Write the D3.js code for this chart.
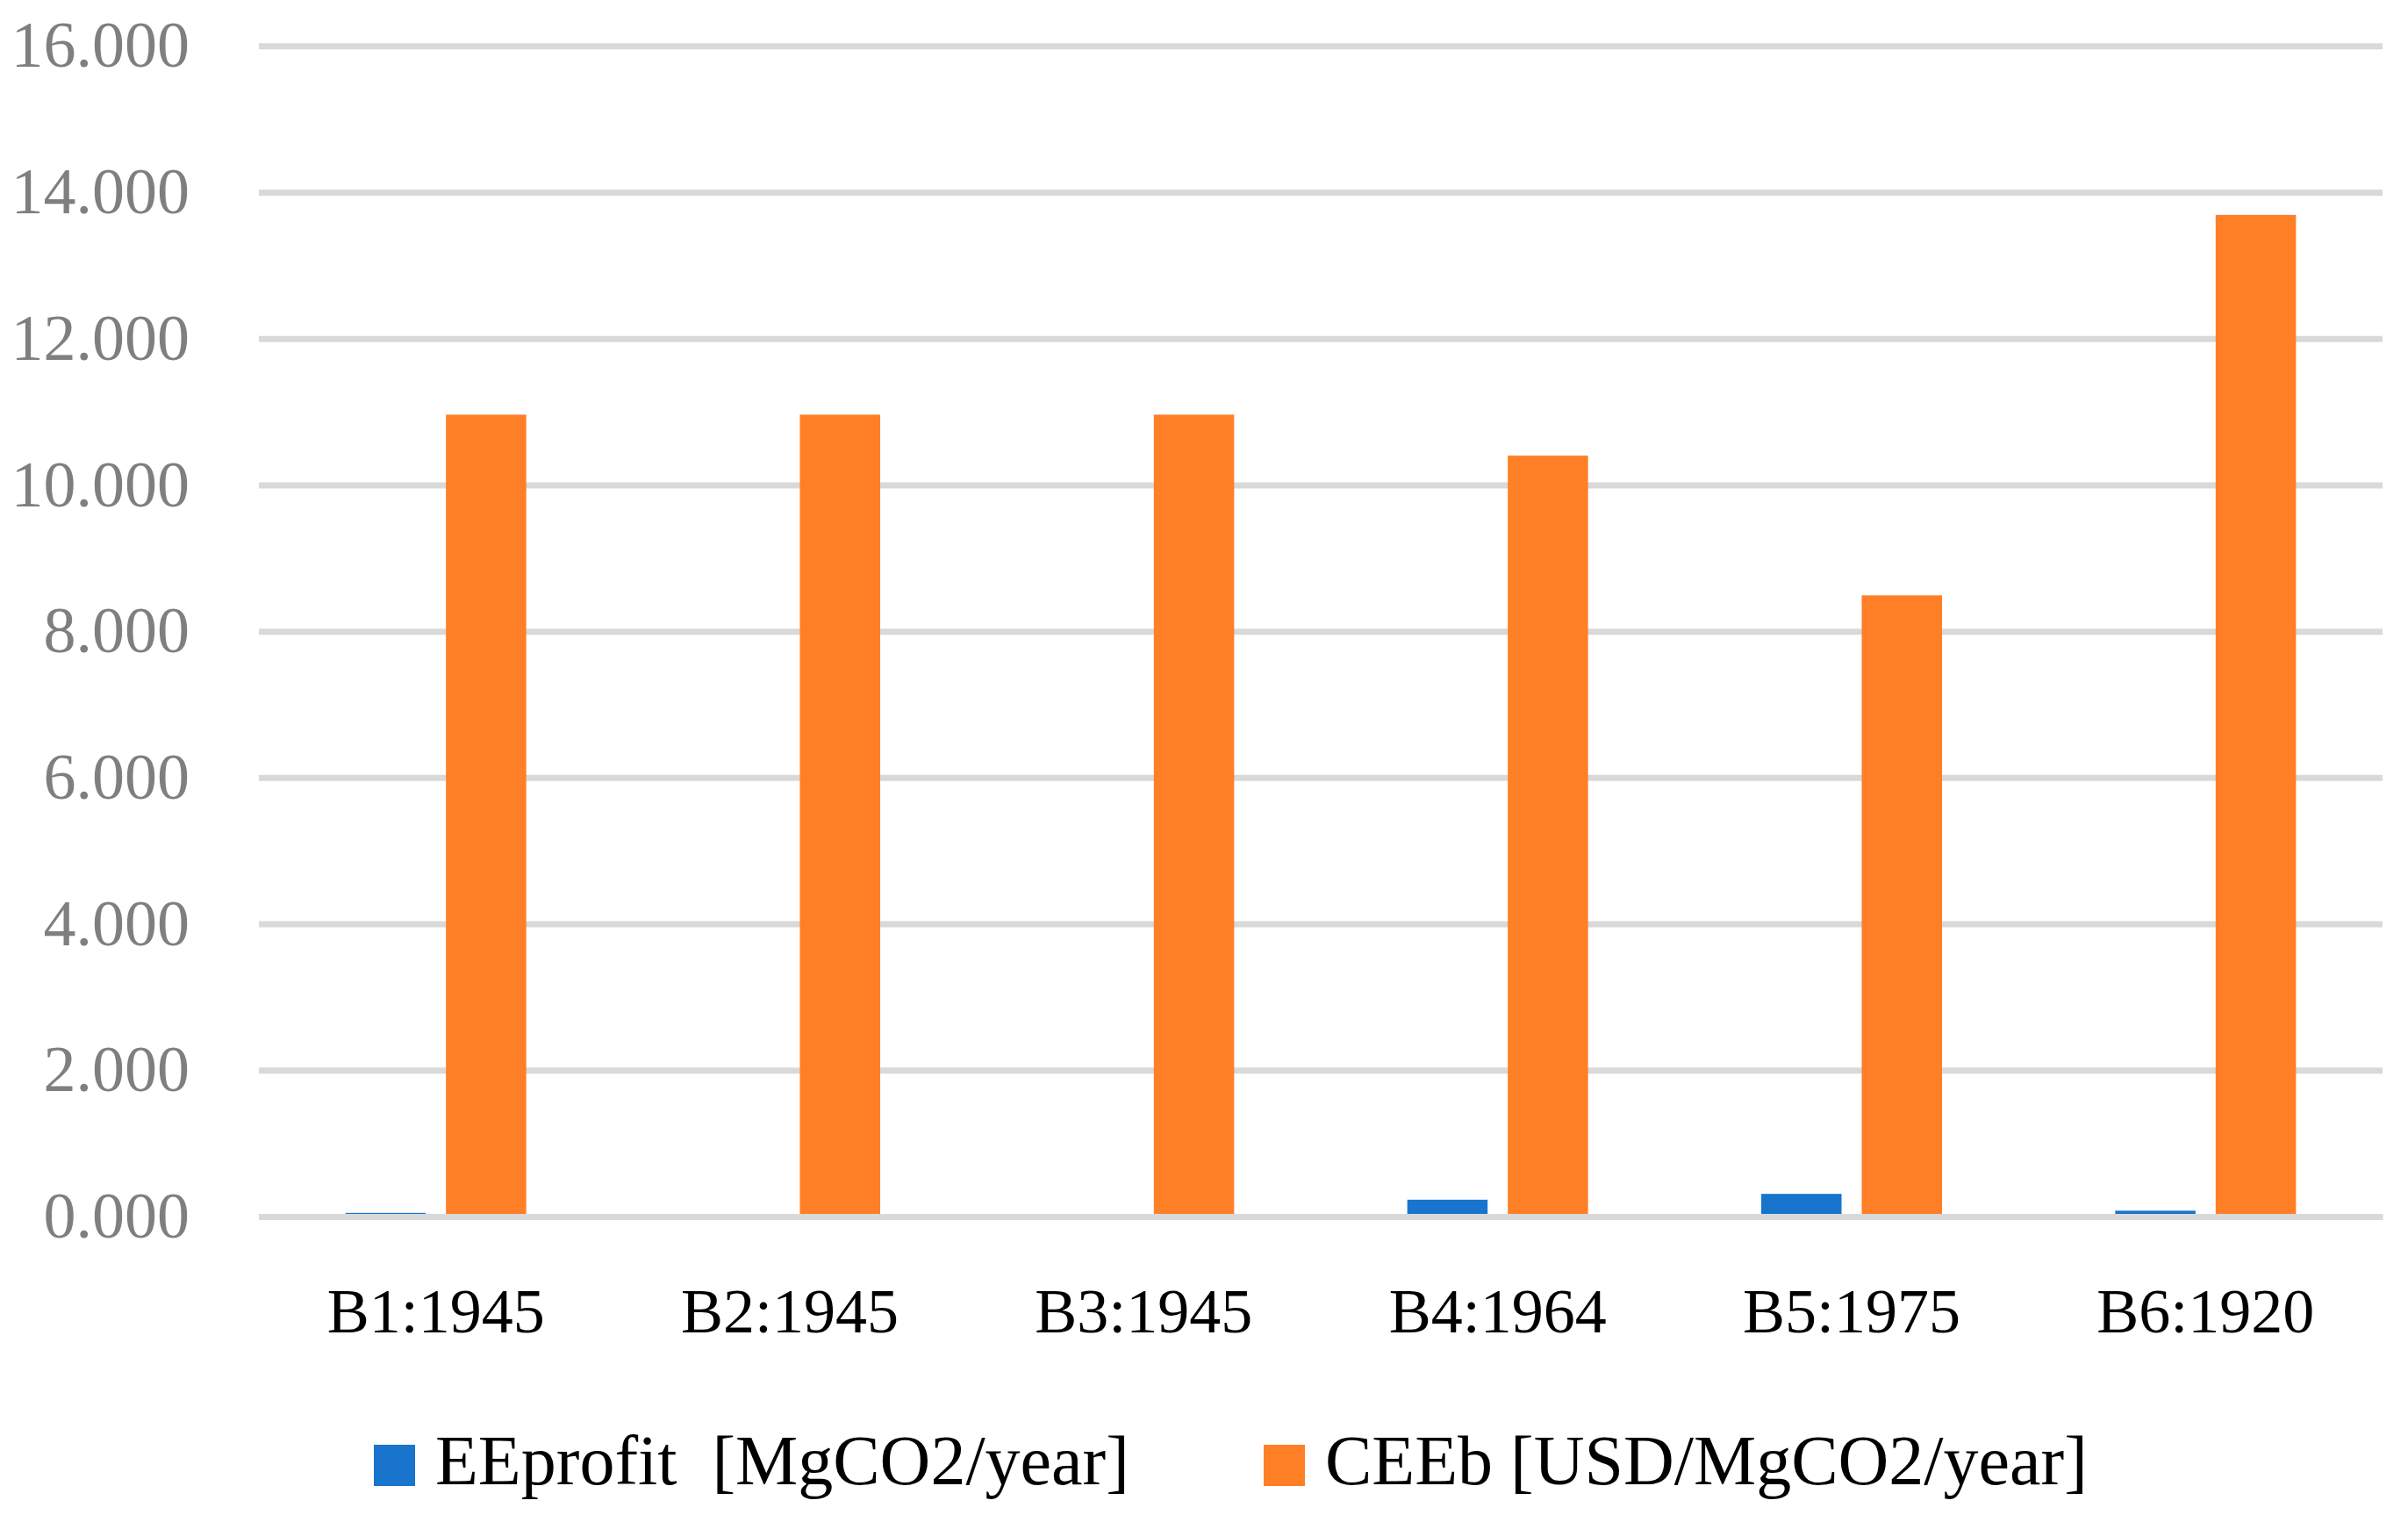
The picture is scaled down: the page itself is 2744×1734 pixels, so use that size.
<!DOCTYPE html>
<html>
<head>
<meta charset="utf-8">
<script src="https://cdn.jsdelivr.net/npm/d3@7"></script>
<style>
  body { margin: 0; background: #fff; }
  text { font-family: "Liberation Serif", "DejaVu Serif", serif; }
</style>
</head>
<body>
<svg id="chart" width="2744" height="1734"></svg>
<script>
// data
const buildings = ["B1:1945", "B2:1945", "B3:1945", "B4:1964", "B5:1975", "B6:1920"];
const eeProfit = [0.05, 0, 0, 0.23, 0.31, 0.08];
const ceeB = [10.96, 10.96, 10.96, 10.40, 8.49, 13.69];
const seriesNames = ["EEprofit  [MgCO2/year]", "CEEb [USD/MgCO2/year]"];
const seriesColors = ["#1874cd", "#ff7f27"];
const yTicks = [0, 2, 4, 6, 8, 10, 12, 14, 16];

const svg = d3.select("#chart");
const width = +svg.attr("width");
const height = +svg.attr("height");
const plotLeft = 295, plotRight = 2715, plotTop = 52.3, plotBottom = 1386;

svg.append("rect").attr("width", width).attr("height", height).attr("fill", "#fff");

const x0 = d3.scaleBand()
  .domain(buildings)
  .range([plotLeft, plotRight]);

// two bars per group, centred on the group, 23px apart
const x1 = d3.scaleBand()
  .domain([0, 1])
  .range([-103, 103])
  .paddingInner(23 / 114.5);

const y = d3.scaleLinear()
  .domain([0, 16])
  .range([plotBottom, plotTop]);

const fmt = d3.format(".3f");

// gridlines + y labels
const yAxis = svg.append("g")
  .attr("transform", `translate(${plotLeft},0)`)
  .call(d3.axisLeft(y)
    .tickValues(yTicks)
    .tickFormat(fmt)
    .tickSize(-(plotRight - plotLeft))
    .tickPadding(79));
yAxis.select(".domain").remove();
yAxis.selectAll(".tick line")
  .attr("stroke", "#d9d9d9")
  .attr("stroke-width", 7);
yAxis.selectAll(".tick text")
  .attr("fill", "#7f7f7f")
  .attr("font-size", 74)
  .attr("font-family", "Liberation Serif");

// bars
const rows = buildings.map((b, i) => ({ b: b, vals: [eeProfit[i], ceeB[i]] }));

const groups = svg.append("g")
  .selectAll("g")
  .data(rows)
  .enter()
  .append("g")
  .attr("transform", d => `translate(${x0(d.b) + x0.bandwidth() / 2},0)`);

groups.selectAll("rect")
  .data(d => d.vals.map((v, k) => ({ k: k, v: v })))
  .enter()
  .append("rect")
  .attr("x", d => x1(d.k))
  .attr("width", x1.bandwidth())
  .attr("y", d => y(d.v))
  .attr("height", d => y(0) - y(d.v))
  .attr("fill", d => seriesColors[d.k]);

// category axis (line drawn over the bars)
const xAxis = svg.append("g")
  .attr("transform", `translate(0,${y(0)})`)
  .call(d3.axisBottom(x0).tickSize(0).tickPadding(81));
xAxis.select(".domain")
  .attr("stroke", "#d9d9d9")
  .attr("stroke-width", 7);
xAxis.selectAll(".tick text")
  .attr("fill", "#000")
  .attr("font-size", 72)
  .attr("font-family", "Liberation Serif");

// legend
const legendX = [426, 1440];
const legend = svg.append("g");
seriesNames.forEach((name, k) => {
  legend.append("rect")
    .attr("x", legendX[k])
    .attr("y", 1646)
    .attr("width", 47)
    .attr("height", 47)
    .attr("fill", seriesColors[k]);
  legend.append("text")
    .attr("x", legendX[k] + 70)
    .attr("y", 1691)
    .attr("font-size", 80)
    .attr("fill", "#000")
    .style("white-space", "pre")
    .text(name);
});
</script>
</body>
</html>
